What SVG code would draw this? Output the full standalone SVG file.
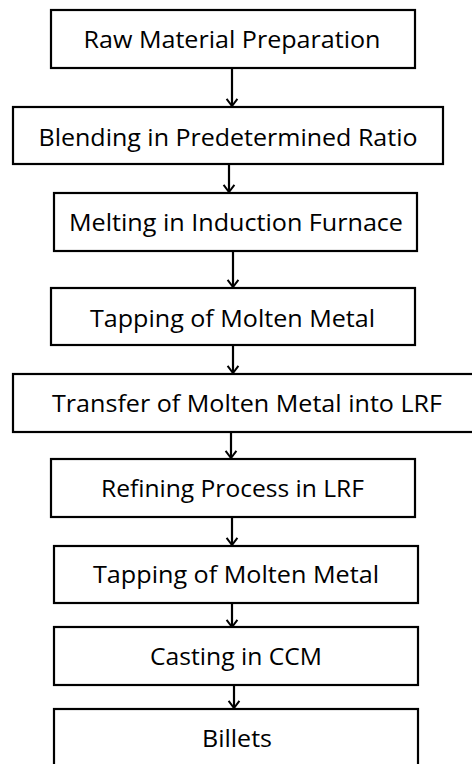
<svg xmlns="http://www.w3.org/2000/svg" width="472" height="764" viewBox="0 0 472 764">
<style>
.box{fill:#fff;stroke:#000;stroke-width:2.2}
.lbl{font-family:"Open Sans","Noto Sans","Liberation Sans",sans-serif;font-size:23px;fill:#000;text-anchor:middle}
.arr{fill:none;stroke:#000;stroke-width:2.2}
</style>
<defs>
<marker id="ah" viewBox="0 0 10 14" refX="9" refY="7" markerWidth="9" markerHeight="14" markerUnits="userSpaceOnUse" orient="auto">
<path d="M1,1 L9,7 L1,13" fill="none" stroke="#000" stroke-width="2.2"/>
</marker>
</defs>
<rect width="472" height="764" fill="#fff"/>
<g id="connectors">
<line class="arr" x1="232" y1="68" x2="232" y2="106" marker-end="url(#ah)"/>
<line class="arr" x1="229" y1="164" x2="229" y2="192" marker-end="url(#ah)"/>
<line class="arr" x1="233" y1="251" x2="233" y2="287" marker-end="url(#ah)"/>
<line class="arr" x1="233" y1="345" x2="233" y2="373" marker-end="url(#ah)"/>
<line class="arr" x1="231" y1="432" x2="231" y2="458" marker-end="url(#ah)"/>
<line class="arr" x1="232" y1="517" x2="232" y2="545" marker-end="url(#ah)"/>
<line class="arr" x1="232" y1="603" x2="232" y2="627" marker-end="url(#ah)"/>
<line class="arr" x1="234" y1="685" x2="234" y2="708" marker-end="url(#ah)"/>
</g>
<g id="n1"><rect class="box" x="51" y="10" width="364" height="58"/><text class="lbl" x="232" y="48" textLength="297" lengthAdjust="spacingAndGlyphs">Raw Material Preparation</text></g>
<g id="n2"><rect class="box" x="13" y="107" width="430" height="57"/><text class="lbl" x="228" y="146" textLength="379" lengthAdjust="spacingAndGlyphs">Blending in Predetermined Ratio</text></g>
<g id="n3"><rect class="box" x="54" y="193" width="363" height="58"/><text class="lbl" x="236" y="231" textLength="334" lengthAdjust="spacingAndGlyphs">Melting in Induction Furnace</text></g>
<g id="n4"><rect class="box" x="51" y="288" width="364" height="57"/><text class="lbl" x="232.5" y="327" textLength="285" lengthAdjust="spacingAndGlyphs">Tapping of Molten Metal</text></g>
<g id="n5"><rect class="box" x="13" y="374" width="470" height="58"/><text class="lbl" x="247" y="412" textLength="390" lengthAdjust="spacingAndGlyphs">Transfer of Molten Metal into LRF</text></g>
<g id="n6"><rect class="box" x="51" y="459" width="364" height="58"/><text class="lbl" x="232.5" y="497" textLength="263" lengthAdjust="spacingAndGlyphs">Refining Process in LRF</text></g>
<g id="n7"><rect class="box" x="54" y="546" width="364" height="57"/><text class="lbl" x="236" y="583" textLength="286" lengthAdjust="spacingAndGlyphs">Tapping of Molten Metal</text></g>
<g id="n8"><rect class="box" x="54" y="627" width="364" height="58"/><text class="lbl" x="236" y="665" textLength="172" lengthAdjust="spacingAndGlyphs">Casting in CCM</text></g>
<g id="n9"><rect class="box" x="54" y="709" width="364" height="70"/><text class="lbl" x="237" y="747" textLength="70" lengthAdjust="spacingAndGlyphs">Billets</text></g>
</svg>
